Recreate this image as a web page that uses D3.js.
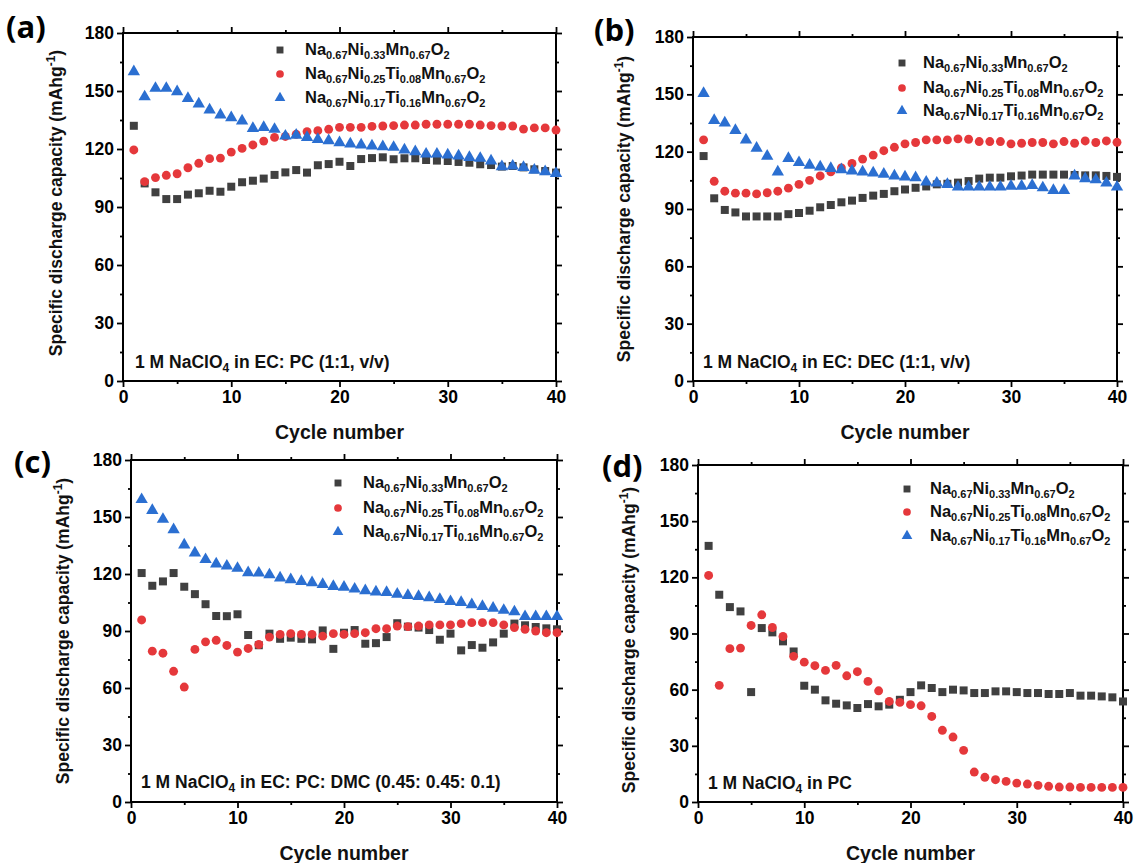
<!DOCTYPE html>
<html><head><meta charset="utf-8">
<script src="https://cdn.jsdelivr.net/npm/d3@7"></script>
<style>body{margin:0;background:#fff}</style>
</head><body>
<svg id="chart" width="1135" height="863"></svg>
<script>
// ---------- DATA ----------
const cycles = d3.range(1, 41);
const xTicks = [0, 10, 20, 30, 40];
const xMinor = [5, 15, 25, 35];
const yTicks = [0, 30, 60, 90, 120, 150, 180];
const yMinor = [15, 45, 75, 105, 135, 165];
const seriesNames = ["Na0.67Ni0.33Mn0.67O2", "Na0.67Ni0.25Ti0.08Mn0.67O2", "Na0.67Ni0.17Ti0.16Mn0.67O2"];
const panelLabels = ["(a)", "(b)", "(c)", "(d)"];
const electrolytes = ["1 M NaClO4 in EC: PC (1:1, v/v)", "1 M NaClO4 in EC: DEC (1:1, v/v)",
  "1 M NaClO4 in EC: PC: DMC (0.45: 0.45: 0.1)", "1 M NaClO4 in PC"];

// panel (a) EC:PC
const aNiMn = [132,102.2,97.6,94.1,94.1,96.4,97.1,98.4,97.9,100.5,102.8,103.6,104.7,106.6,107.9,109.1,107.8,111.6,112.2,113.4,111.2,114.8,115.3,115.7,114.7,115.2,115.2,114.3,114,113.8,113.3,112.9,112.1,111.7,110.9,111.2,110.5,109.5,108.6,107.8];
const aNiTi08 = [119.5,103.1,105.2,106.4,107.2,110.3,112.6,115,115.3,118.4,120.3,122.1,124.1,126,126.5,127.6,129,129.5,130.2,131.2,131.2,131.2,131.7,131.9,132.1,132.4,132.4,132.8,132.8,132.8,132.8,132.8,132.4,132.1,131.9,131.9,130.3,130.9,130.9,129.8];
const aNiTi16 = [160,147,151.4,151.4,149.7,146.2,143.3,140.2,137.6,136.2,134.5,130.7,131.2,130.2,126.7,127.2,126,125,124.3,123.3,122.6,122.1,121.6,121.2,120.9,119.5,118.6,117.4,117.4,116.9,116.4,115.7,115.2,113.8,110.9,111.2,110.5,109.1,108.3,107.4];

// panel (b) EC:DEC
const bNiMn = [117.7,95.6,89.5,88.2,86.1,86.1,86.1,86.1,87.3,87.9,89.1,90.9,92.1,93.5,94.4,95.8,97,97.9,99.3,100.2,101.1,101.8,102.9,103.2,103.8,104.6,105.9,106.4,106.4,107.1,107.5,108,108,108,108,107.8,107.6,107.6,107.3,106.8];
const bNiTi08 = [126.2,104.5,99.3,98.3,98.3,97.9,98.5,99.3,100.9,102.9,105,107.3,109.4,111.5,113.8,116.1,118.2,120.5,122.3,124.1,124.8,126.2,126.2,126.2,126.7,126.5,125.3,125.3,125.3,124.1,124.4,124.8,124.8,124.1,125.3,124.4,125.6,124.8,125.6,124.9];
const bNiTi16 = [150.5,136.4,135,131.1,126.2,121.8,117.7,109.4,116.5,114.3,112.9,112,111.2,110.6,109.9,109.4,108.9,108.2,107.3,106.8,106.4,104.1,103.6,102.9,101.5,101.5,101.5,101.5,101.5,102,102,102.3,101.1,99.7,99.7,107.3,105.9,105.3,103.6,101.5];

// panel (c) EC:PC:DMC
const cNiMn = [120.5,113.8,116.1,120.5,113.3,109.4,104.1,97.9,97.8,98.8,87.9,82.5,88.6,85.9,86.5,85.9,85.6,90.3,80.6,89.1,90.5,83.3,83.6,86.8,94.1,92.3,91.8,90.5,85.4,88.6,79.8,82.6,81.2,84,88.6,93.9,93,92.1,91.4,90.9];
const cNiTi08 = [95.8,79.4,78.3,68.8,60.5,80.3,84.3,85.1,82.4,78.9,80.8,82.9,86.8,88.2,88.6,88.2,88.2,87.3,88.6,88.2,88.6,89.1,91.2,91.2,92.6,92.3,92.6,93.2,93.2,93.2,93.9,94.4,94.4,94.4,93.2,91.8,90.9,90,89.1,89.1];
const cNiTi16 = [159.2,153.5,148.8,143.3,135.3,131.1,127.6,125.3,124.2,123,120.7,120.5,119.6,117.9,117,116.1,115.4,114.5,113.5,113.1,112.1,111.2,110.6,110.3,109.4,108.7,108.2,107.5,106.6,105.5,105,103.9,102.9,102,100.9,100.1,97.6,97.6,97.6,97.6];

// panel (d) PC
const dNiMn = [136.8,110.7,104.1,101.8,58.7,92.9,90.6,85.8,80.4,62.1,60,54.3,52.5,51.6,50.2,52.3,51.1,52,54.6,58.7,62.3,60.9,58.7,60,59.6,58.2,58.2,59.1,59.1,58.7,58.2,58.2,57.7,57.7,58.2,56.8,56.8,56.4,55.9,53.7];
const dNiTi08 = [121,62.3,81.9,82.2,94.3,100,93.2,88.4,77.8,74.7,72.8,70.3,73,67.4,69.6,64.4,59.4,53.7,53.2,52,51.4,45.7,38.3,34.7,27.6,16,13.2,11.9,11,10.1,9.6,8.9,8.4,8,8,7.8,7.8,7.8,7.8,7.8];
const dNiTi16 = [];

// ---------- LAYOUT ----------
const colors = ["#404040", "#e5383b", "#2b6fd1"];
const symbols = [d3.symbolSquare, d3.symbolCircle, d3.symbolTriangle];
const symSizes = [64, 62, 66];
const FONT = "'Liberation Sans', Arial, sans-serif";

const panels = [
  {frame:[123,556,33,381], lab:[6,38], yt:[62,203], leg:[280,305,[50,74,98]], ann:[135,362], data:[aNiMn,aNiTi08,aNiTi16]},
  {frame:[693,1117,37,381], lab:[594,41], yt:[630,209], leg:[902,923,[63,88,111]], ann:[703,362], data:[bNiMn,bNiTi08,bNiTi16]},
  {frame:[131,557,460,802], lab:[14,473], yt:[69,631], leg:[338,363,[483,508,532]], ann:[141,782], data:[cNiMn,cNiTi08,cNiTi16]},
  {frame:[698,1123,465,802], lab:[602,477], yt:[635,640], leg:[907,930,[489,512,536]], ann:[708,783], data:[dNiMn,dNiTi08,dNiTi16]}
];

const svg = d3.select("#chart");

function chemText(sel, str, mainSize, subSize, shift) {
  const re = /([A-Za-z]+)([\d.]*)/g;
  let m, down = false;
  while ((m = re.exec(str)) !== null) {
    sel.append("tspan").text(m[1]).attr("font-size", mainSize).attr("dy", down ? -shift : 0);
    down = false;
    if (m[2]) { sel.append("tspan").text(m[2]).attr("font-size", subSize).attr("dy", shift); down = true; }
  }
}

panels.forEach((p, i) => {
  const [x0, x1, y0, y1] = p.frame;
  const x = d3.scaleLinear().domain([0, 40]).range([x0, x1]);
  const y = d3.scaleLinear().domain([0, 180]).range([y1, y0]);
  const g = svg.append("g");

  const axStyle = (sel) => {
    sel.select(".domain").remove();
    sel.selectAll("line").attr("stroke", "#000").attr("stroke-width", 1.8);
    sel.selectAll("text").attr("font-family", FONT).attr("font-weight", "bold").attr("font-size", 17.5).attr("fill", "#000");
  };
  g.append("g").attr("transform", `translate(0,${y1})`).call(d3.axisBottom(x).tickValues(xTicks).tickSize(6).tickPadding(4).tickFormat(d3.format("d"))).call(axStyle);
  g.append("g").attr("transform", `translate(0,${y1})`).call(d3.axisBottom(x).tickValues(xMinor).tickSize(3).tickFormat("")).call(axStyle);
  g.append("g").attr("transform", `translate(0,${y0})`).call(d3.axisTop(x).tickValues(xTicks).tickSize(6).tickFormat("")).call(axStyle);
  g.append("g").attr("transform", `translate(0,${y0})`).call(d3.axisTop(x).tickValues(xMinor).tickSize(3).tickFormat("")).call(axStyle);
  g.append("g").attr("transform", `translate(${x0},0)`).call(d3.axisLeft(y).tickValues(yTicks).tickSize(6).tickPadding(3).tickFormat(d3.format("d"))).call(axStyle);
  g.append("g").attr("transform", `translate(${x0},0)`).call(d3.axisLeft(y).tickValues(yMinor).tickSize(3).tickFormat("")).call(axStyle);
  g.append("g").attr("transform", `translate(${x1},0)`).call(d3.axisRight(y).tickValues(yTicks).tickSize(6).tickFormat("")).call(axStyle);
  g.append("g").attr("transform", `translate(${x1},0)`).call(d3.axisRight(y).tickValues(yMinor).tickSize(3).tickFormat("")).call(axStyle);

  g.append("rect").attr("x", x0).attr("y", y0).attr("width", x1 - x0).attr("height", y1 - y0)
    .attr("fill", "none").attr("stroke", "#000").attr("stroke-width", 2);

  p.data.forEach((vals, s) => {
    const sym = d3.symbol().type(symbols[s]).size(symSizes[s]);
    g.append("g").selectAll("path").data(vals).join("path")
      .attr("d", sym)
      .attr("transform", (v, k) => `translate(${x(cycles[k])},${y(v)})`)
      .attr("fill", colors[s]);
  });

  seriesNames.forEach((name, s) => {
    const ly = p.leg[2][s];
    g.append("path").attr("d", d3.symbol().type(symbols[s]).size(symSizes[s] * 0.75)())
      .attr("transform", `translate(${p.leg[0]},${ly})`).attr("fill", colors[s]);
    const t = g.append("text").attr("x", p.leg[1]).attr("y", ly + 5)
      .attr("font-family", FONT).attr("font-weight", "bold").attr("fill", "#111");
    chemText(t, name, 16.5, 11, 4);
  });

  const at = g.append("text").attr("x", p.ann[0]).attr("y", p.ann[1] + 6)
    .attr("font-family", FONT).attr("font-weight", "bold").attr("font-size", 17.5).attr("fill", "#111");
  const parts = electrolytes[i].split("NaClO4");
  at.append("tspan").text(parts[0] + "NaClO");
  at.append("tspan").text("4").attr("font-size", 12).attr("dy", 4);
  at.append("tspan").text(parts[1]).attr("dy", -4);

  g.append("text").attr("x", (x0 + x1) / 2).attr("y", y1 + 58).attr("text-anchor", "middle")
    .attr("font-family", FONT).attr("font-weight", "bold").attr("font-size", 19.5).attr("fill", "#111").text("Cycle number");
  const yt = g.append("text").attr("transform", `translate(${p.yt[0]},${p.yt[1]}) rotate(-90)`)
    .attr("text-anchor", "middle").attr("font-family", FONT).attr("font-weight", "bold").attr("font-size", 17.5).attr("fill", "#111");
  yt.append("tspan").text("Specific discharge capacity (mAhg");
  yt.append("tspan").text("-1").attr("font-size", 12).attr("dy", -7);
  yt.append("tspan").text(")").attr("dy", 7);

  g.append("text").attr("x", p.lab[0]).attr("y", p.lab[1]).attr("font-family", "'Open Sans', sans-serif")
    .attr("font-weight", "bold").attr("font-size", 31).attr("fill", "#000").text(panelLabels[i]);
});
</script>
</body></html>
